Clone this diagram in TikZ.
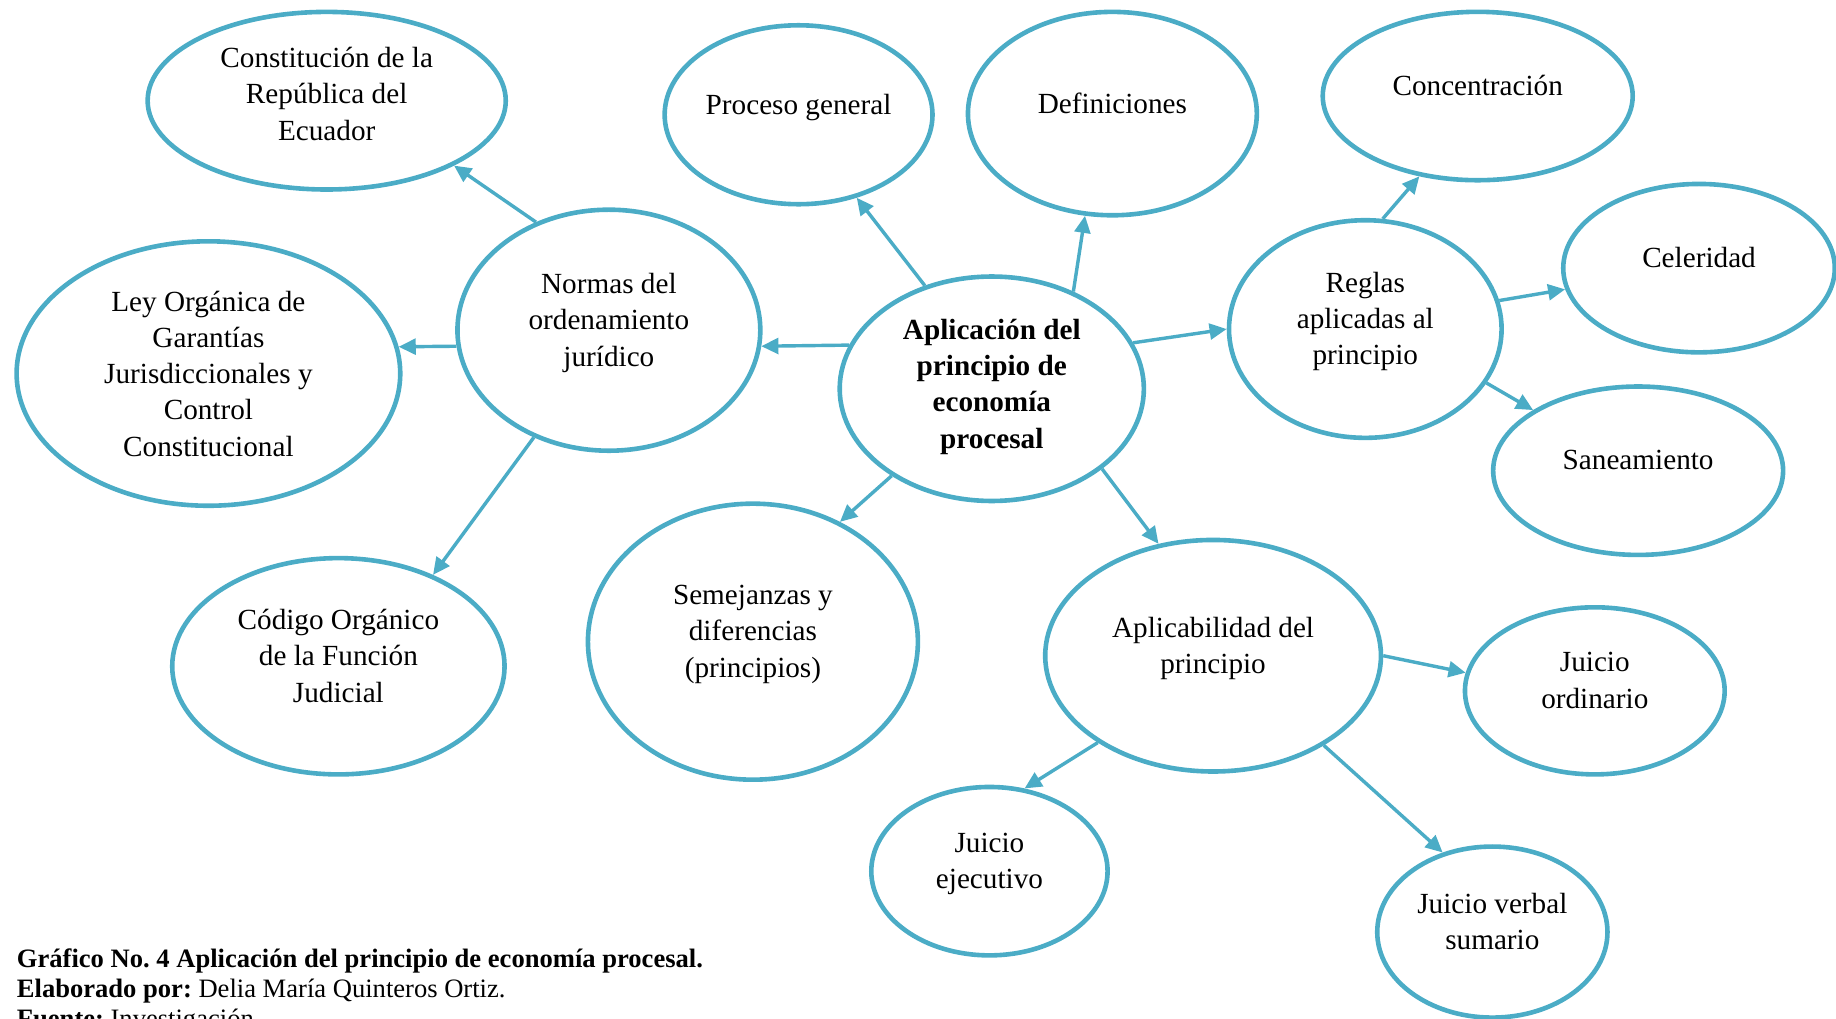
\documentclass[tikz,border=0pt]{standalone}
\usepackage{fontspec}
\setmainfont{Liberation Serif}
\usetikzlibrary{shapes.geometric, arrows.meta}
\definecolor{bubbleblue}{HTML}{4BACC6}
\frenchspacing

\begin{document}
\begin{tikzpicture}[
      x=0.445pt, y=-0.445pt,
      bubble/.style={ellipse, draw=bubbleblue, line width=1.75pt, align=center, inner sep=0pt, text depth=8pt, font=\fontsize{11.1}{13.8}\selectfont},
      arrow/.style={-{Triangle[length=6.5pt, width=6pt]}, draw=bubbleblue, line width=1.3pt},
      caption/.style={anchor=north west, inner sep=0pt, align=left, font=\fontsize{10.1}{11.4}\selectfont}
      ]

      \useasboundingbox (0,0) rectangle (1568,870);
      \clip (0,0) rectangle (1568,870);

      % Centre
      \node[bubble, minimum width=115.6pt, minimum height=85.3pt, text depth=4pt, font=\fontsize{11.1}{13.8}\selectfont\bfseries] (central) at (847,332) {Aplicación del\\principio de\\economía\\procesal};

      % Left branch
      \node[bubble, minimum width=115.1pt, minimum height=91.6pt] (normas) at (520,282) {Normas del\\ordenamiento\\jurídico};
      \node[bubble, minimum width=136.1pt, minimum height=67.5pt, text depth=5.4pt] (constitucion) at (279,86) {Constitución de la\\República del\\Ecuador};
      \node[bubble, minimum width=145.8pt, minimum height=100.5pt, text depth=0pt] (ley) at (178,319) {Ley Orgánica de\\Garantías\\Jurisdiccionales y\\Control\\Constitucional};
      \node[bubble, minimum width=126.3pt, minimum height=82.2pt] (codigo) at (289,569) {Código Orgánico\\de la Función\\Judicial};

      % Top
      \node[bubble, minimum width=101.8pt, minimum height=68pt] (proceso) at (682,98) {Proceso general};
      \node[bubble, minimum width=109.8pt, minimum height=77.3pt] (definiciones) at (950,97) {Definiciones};

      % Bottom
      \node[bubble, minimum width=125.4pt, minimum height=104.9pt] (semejanzas) at (643,548) {Semejanzas y\\diferencias\\(principios)};

      % Right branch: rules
      \node[bubble, minimum width=103.6pt, minimum height=82.7pt] (reglas) at (1166,281) {Reglas\\aplicadas al\\principio};
      \node[bubble, minimum width=117.8pt, minimum height=64pt] (concentracion) at (1262,82) {Concentración};
      \node[bubble, minimum width=103.2pt, minimum height=64pt] (celeridad) at (1451,229) {Celeridad};
      \node[bubble, minimum width=110.2pt, minimum height=64pt] (saneamiento) at (1399,402) {Saneamiento};

      % Right branch: applicability
      \node[bubble, minimum width=127.6pt, minimum height=88pt] (aplicabilidad) at (1036,560) {Aplicabilidad del\\principio};
      \node[bubble, minimum width=98.7pt, minimum height=63.5pt] (ordinario) at (1362,590) {Juicio\\ordinario};
      \node[bubble, minimum width=89.8pt, minimum height=64pt] (ejecutivo) at (845,744) {Juicio\\ejecutivo};
      \node[bubble, minimum width=87.5pt, minimum height=65pt] (verbal) at (1274.5,796) {Juicio verbal\\sumario};

      % Caption
      \node[caption] (fuente) at (14,810) {\textbf{Gráfico No. 4 Aplicación del principio de economía procesal.}\\\textbf{Elaborado por:} Delia María Quinteros Ortiz.\\\textbf{Fuente:} Investigación.};

      % Arrows from the centre
      \draw[arrow] (central.163) -- (normas.-6);
      \draw[arrow] (central.123) -- (proceso.-55);
      \draw[arrow] (central.50) -- (definiciones.-105);
      \draw[arrow] (central.18) -- (reglas.180);
      \draw[arrow] (central.221) -- (semejanzas.54);
      \draw[arrow] (central.-36) -- (aplicabilidad.116);

      % Arrows from the norms
      \draw[arrow] (normas.124) -- (constitucion.-27);
      \draw[arrow] (normas.186) -- (ley.8);
      \draw[arrow] (normas.235) -- (codigo.44);

      % Arrows from the rules
      \draw[arrow] (reglas.81) -- (concentracion.-126);
      \draw[arrow] (reglas.12) -- (celeridad.189);
      \draw[arrow] (reglas.-24) -- (saneamiento.150);

      % Arrows from the applicability
      \draw[arrow] (aplicabilidad.0) -- (ordinario.172);
      \draw[arrow] (aplicabilidad.217) -- (ejecutivo.67);
      \draw[arrow] (aplicabilidad.-39) -- (verbal.122);

\end{tikzpicture}
\end{document}
